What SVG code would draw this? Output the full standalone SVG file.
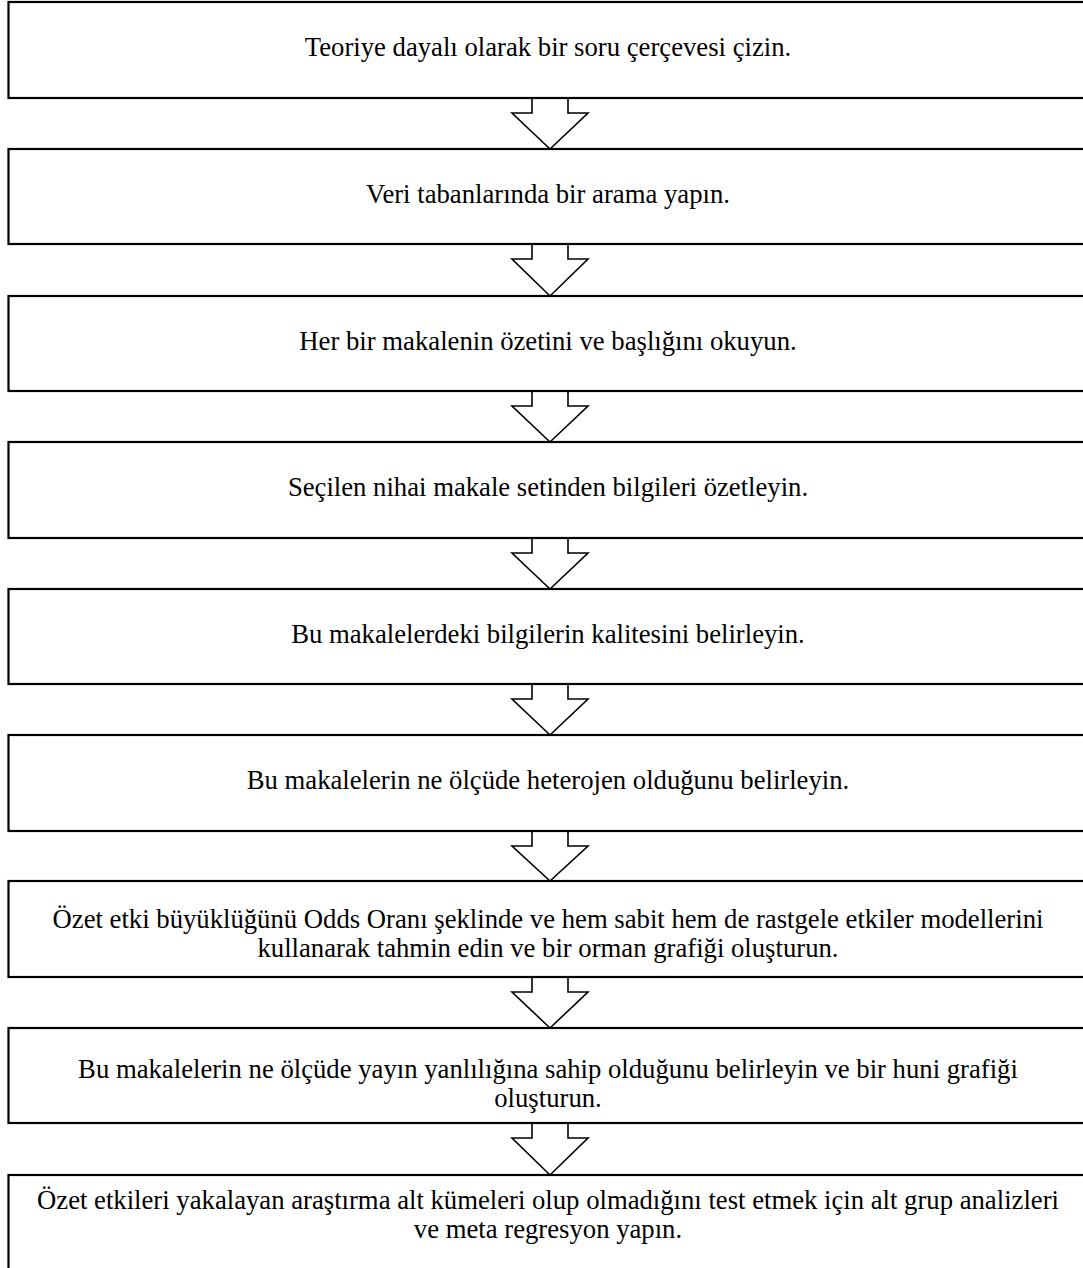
<svg xmlns="http://www.w3.org/2000/svg" width="1083" height="1268" viewBox="0 0 1083 1268">
<style>
.box{fill:#fff;stroke:#000;stroke-width:2.2}
.arr{fill:#fff;stroke:#000;stroke-width:1.6;stroke-linejoin:miter}
text{font-family:"Liberation Serif","Times New Roman",serif;font-size:26.7px;fill:#000;text-anchor:middle}
</style>
<rect width="1083" height="1268" fill="#fff"/>
<g id="connectors">
<polygon class="arr" points="532,98 532,113 512,113 550,149 588,113 568,113 568,98"/>
<polygon class="arr" points="532,244 532,259 512,259 550,296 588,259 568,259 568,244"/>
<polygon class="arr" points="532,391 532,406 512,406 550,442 588,406 568,406 568,391"/>
<polygon class="arr" points="532,538 532,553 512,553 550,589 588,553 568,553 568,538"/>
<polygon class="arr" points="532,684 532,699 512,699 550,735 588,699 568,699 568,684"/>
<polygon class="arr" points="532,831 532,846 512,846 550,881 588,846 568,846 568,831"/>
<polygon class="arr" points="532,977 532,992 512,992 550,1028 588,992 568,992 568,977"/>
<polygon class="arr" points="532,1123 532,1138 512,1138 550,1175 588,1138 568,1138 568,1123"/>
</g>
<g id="n1"><rect class="box" x="8.5" y="2" width="1090" height="96"/><text x="548" y="56">Teoriye dayalı olarak bir soru çerçevesi çizin.</text></g>
<g id="n2"><rect class="box" x="8.5" y="149" width="1090" height="95"/><text x="548" y="203">Veri tabanlarında bir arama yapın.</text></g>
<g id="n3"><rect class="box" x="8.5" y="296" width="1090" height="95"/><text x="548" y="350">Her bir makalenin özetini ve başlığını okuyun.</text></g>
<g id="n4"><rect class="box" x="8.5" y="442" width="1090" height="96"/><text x="548" y="496">Seçilen nihai makale setinden bilgileri özetleyin.</text></g>
<g id="n5"><rect class="box" x="8.5" y="589" width="1090" height="95"/><text x="548" y="643">Bu makalelerdeki bilgilerin kalitesini belirleyin.</text></g>
<g id="n6"><rect class="box" x="8.5" y="735" width="1090" height="96"/><text x="548" y="789">Bu makalelerin ne ölçüde heterojen olduğunu belirleyin.</text></g>
<g id="n7"><rect class="box" x="8.5" y="881" width="1090" height="96"/><text x="548" y="928">Özet etki büyüklüğünü Odds Oranı şeklinde ve hem sabit hem de rastgele etkiler modellerini</text><text x="548" y="957">kullanarak tahmin edin ve bir orman grafiği oluşturun.</text></g>
<g id="n8"><rect class="box" x="8.5" y="1028" width="1090" height="95"/><text x="548" y="1078">Bu makalelerin ne ölçüde yayın yanlılığına sahip olduğunu belirleyin ve bir huni grafiği</text><text x="548" y="1107">oluşturun.</text></g>
<g id="n9"><rect class="box" x="8.5" y="1175" width="1090" height="96"/><text x="548" y="1209">Özet etkileri yakalayan araştırma alt kümeleri olup olmadığını test etmek için alt grup analizleri</text><text x="548" y="1238">ve meta regresyon yapın.</text></g>
</svg>
